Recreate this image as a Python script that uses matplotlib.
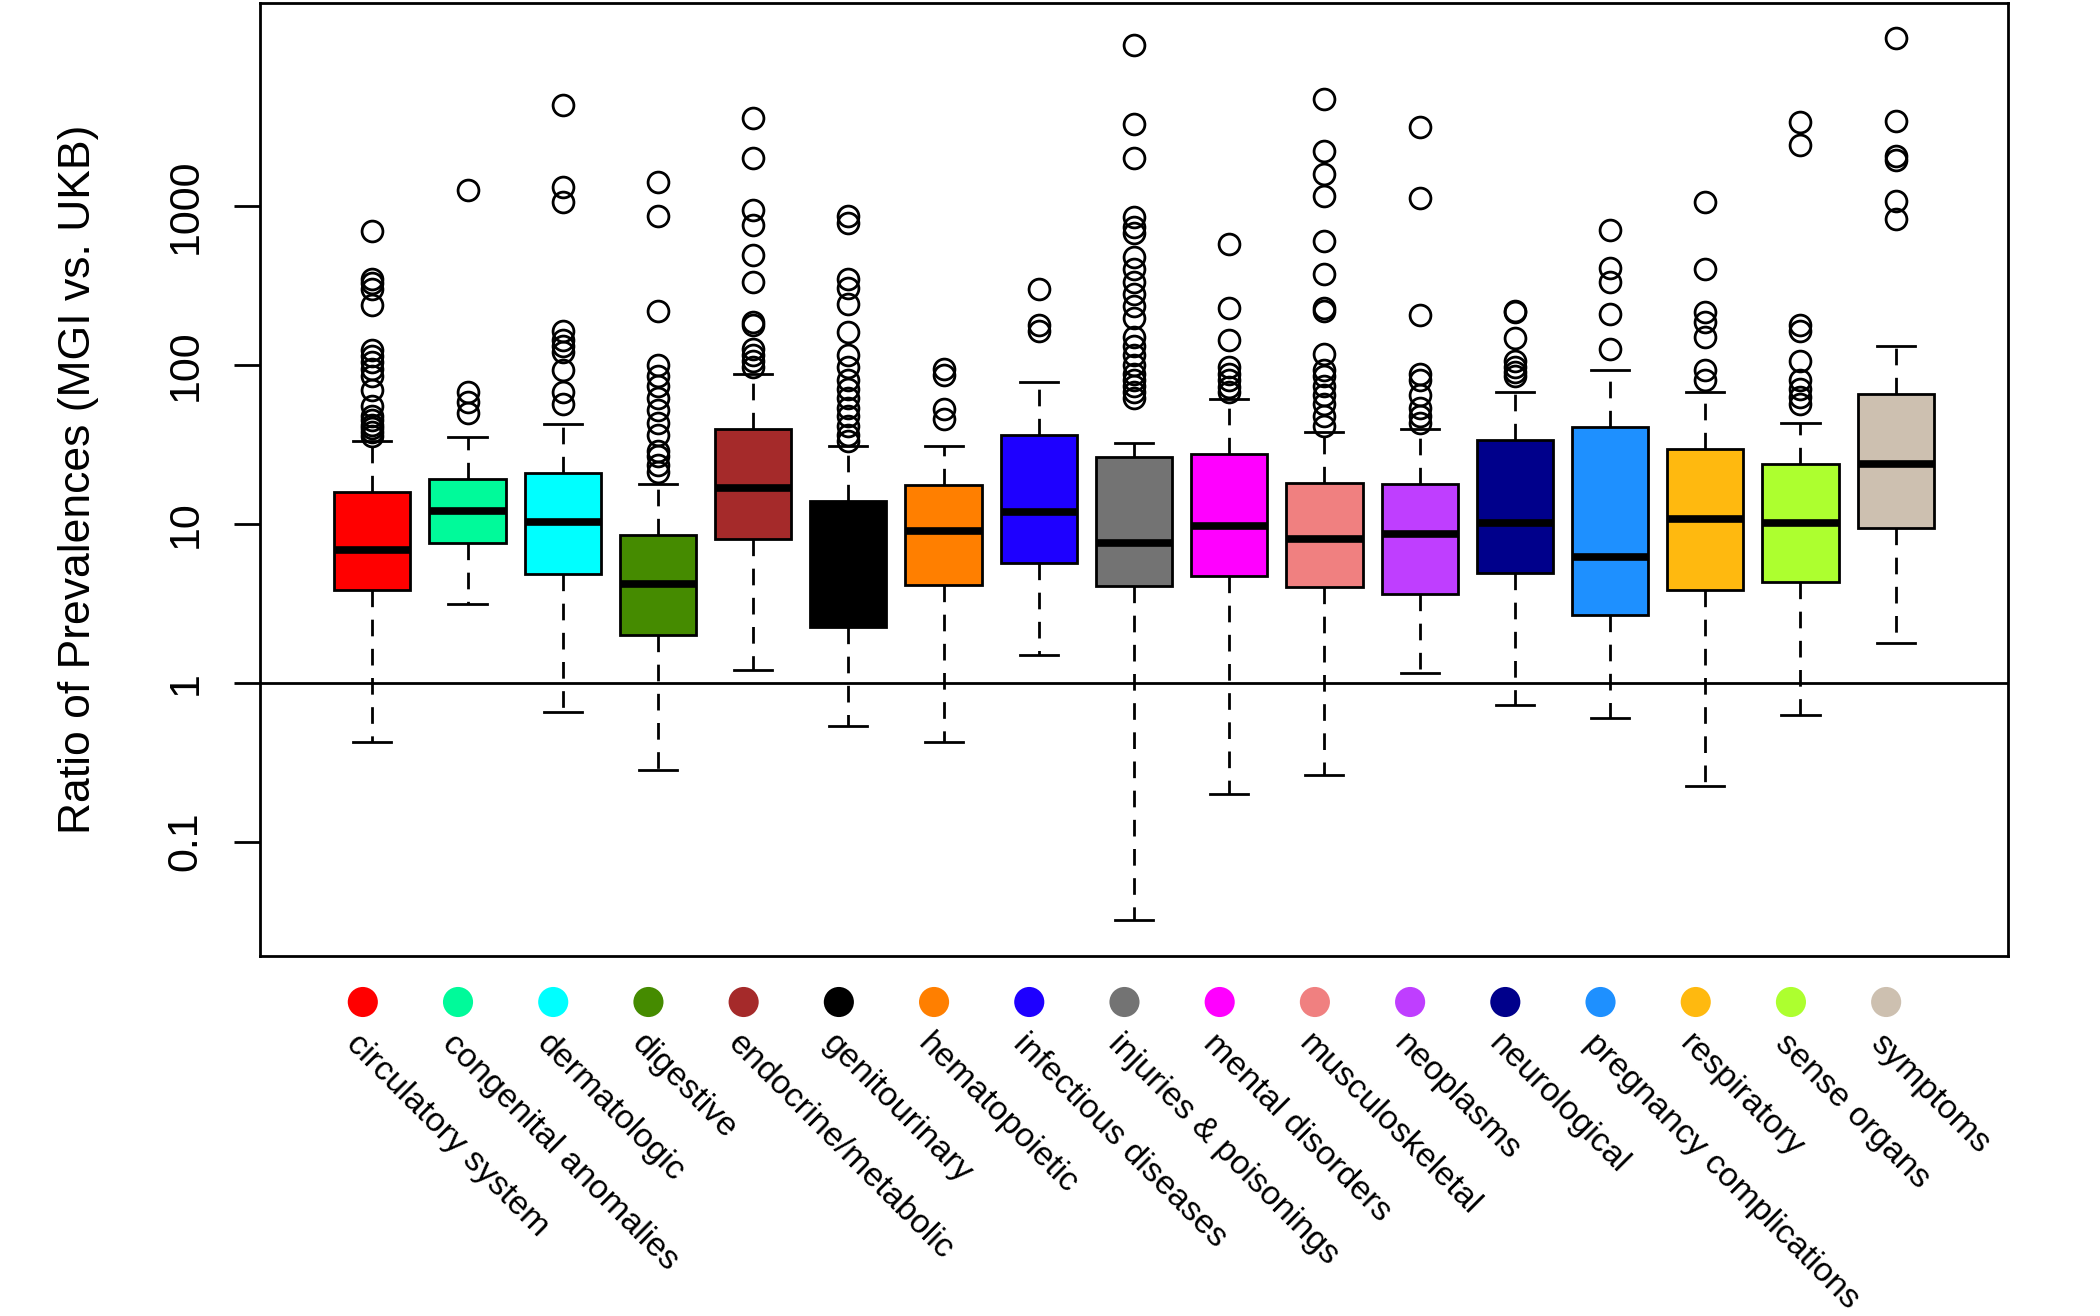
import numpy as np
import matplotlib
matplotlib.use("Agg")
from matplotlib import pyplot as plt
from matplotlib import transforms

plt.rcParams['font.family'] = ['Liberation Sans', 'DejaVu Sans']

categories = ['circulatory system', 'congenital anomalies', 'dermatologic', 'digestive',
              'endocrine/metabolic', 'genitourinary', 'hematopoietic', 'infectious diseases',
              'injuries & poisonings', 'mental disorders', 'musculoskeletal', 'neoplasms',
              'neurological', 'pregnancy complications', 'respiratory', 'sense organs',
              'symptoms']

colors = ['#FF0000', '#00FA9A', '#00FFFF', '#458B00', '#A52A2A', '#000000', '#FF7F00',
          '#1E00FF', '#737373', '#FF00FF', '#F08080', '#BF3EFF', '#00008B', '#1E90FF',
          '#FFB90F', '#ADFF2F', '#CDC0B0']

medians = [6.9, 12.0, 10.3, 4.2, 16.8, 6.0, 9.0, 11.9, 7.6, 9.7, 8.1, 8.6, 10.1, 6.2, 10.8, 10.1, 24.0]
q1 = [3.86, 7.64, 4.82, 2.0, 8.06, 2.26, 4.14, 5.7, 4.07, 4.73, 4.03, 3.62, 4.9, 2.66, 3.86, 4.33, 9.46]
q3 = [16.0, 19.1, 21.0, 8.58, 39.8, 14.0, 17.6, 36.1, 26.5, 27.7, 18.2, 17.9, 34.0, 40.6, 29.7, 24.0, 66.1]
whisk_lo = [0.426, 3.12, 0.659, 0.283, 1.2, 0.532, 0.426, 1.5, 0.0319, 0.199, 0.262, 1.15,
            0.726, 0.597, 0.225, 0.625, 1.78]
whisk_hi = [33.4, 35.2, 42.4, 17.9, 88.6, 31.1, 31.1, 78.9, 32.2, 61.0, 37.8, 39.5, 67.9,
            92.7, 67.9, 43.2, 132]

outliers = [
    [702, 350, 330, 300, 240, 125, 115, 105, 95, 85, 70, 55, 48, 45, 42, 40, 38, 36],
    [1271, 68, 59, 50],
    [4330, 1330, 1065, 165, 144, 132, 121, 93, 68, 57],
    [1428, 868, 221, 100, 85, 74, 62, 52, 43.5, 36.5, 29, 26.7, 23.4, 21.4],
    [3630, 2018, 949, 760, 492, 336, 188, 180, 126, 116, 106, 97],
    [868, 781, 351, 307, 242, 161, 116, 97, 81, 71, 62, 54, 47.6, 41.7, 36.5, 33.4],
    [95, 87, 53, 46],
    [302, 180, 165],
    [10440, 3320, 2018, 853, 747, 683, 479, 401, 336, 281, 235, 197, 151, 132, 116, 101,
     88.6, 81, 74, 68, 62],
    [577, 229, 144, 97, 88.6, 81, 73, 68],
    [4735, 2227, 1602, 1164, 603, 373, 229, 219, 118, 93, 85, 74, 65, 57, 47.6, 41.7],
    [3175, 1133, 206, 88.6, 81, 65, 54, 47.6, 43.5],
    [221, 215, 148, 106, 97, 91, 85],
    [714, 412, 336, 210, 126],
    [1065, 401, 215, 188, 151, 93, 81],
    [3378, 2432, 180, 165, 106, 81, 71, 63, 57],
    [11510, 3437, 2074, 1949, 1084, 830],
]

yticks = [0.1, 1, 10, 100, 1000]
ytick_labels = ['0.1', '1', '10', '100', '1000']

stats = []
for i in range(len(categories)):
    stats.append(dict(med=medians[i], q1=q1[i], q3=q3[i], whislo=whisk_lo[i],
                      whishi=whisk_hi[i], fliers=outliers[i]))

fig = plt.figure(figsize=(21, 13.16), dpi=100)
ax = fig.add_axes([0.1238, 0.2736, 0.8324, 0.7241])

positions = np.arange(1, len(categories) + 1)
bp = ax.bxp(stats, positions=positions, widths=0.8, capwidths=0.4, patch_artist=True,
            boxprops=dict(edgecolor='black', linewidth=2),
            medianprops=dict(color='black', linewidth=5.5, solid_capstyle='butt'),
            whiskerprops=dict(color='black', linewidth=2, linestyle=(0, (6, 4.5))),
            capprops=dict(color='black', linewidth=2),
            flierprops=dict(marker='o', markerfacecolor='none', markeredgecolor='black',
                            markersize=15, markeredgewidth=2))
for patch, c in zip(bp['boxes'], colors):
    patch.set_facecolor(c)

ax.axhline(1, color='black', linewidth=2, zorder=5)

ax.set_yscale('log')
ax.set_ylim(0.01905, 19100)
ax.set_xlim(-0.18, 18.18)
ax.set_xticks([])
ax.minorticks_off()
ax.set_yticks(yticks)
ax.set_yticklabels(ytick_labels, rotation=90, va='center', fontsize=31)
ax.tick_params(axis='y', length=19, width=2, pad=20)
for s in ax.spines.values():
    s.set_linewidth(2)

ax.set_ylabel('Ratio of Prevalences (MGI vs. UKB)', fontsize=32)
ax.yaxis.set_label_coords(-0.092, 0.5)

# colour key and rotated labels under the axes
trans = transforms.blended_transform_factory(ax.transData, fig.transFigure)
ax.scatter(positions - 0.1, np.full(len(positions), 0.2386), s=470, c=colors,
           transform=trans, clip_on=False, linewidths=0)
for p, name in zip(positions, categories):
    ax.text(p - 0.22, 0.2105, name, transform=trans, rotation=-45, rotation_mode='anchor',
            ha='left', va='center', fontsize=24.5)

fig.savefig('out.png', dpi=100)
